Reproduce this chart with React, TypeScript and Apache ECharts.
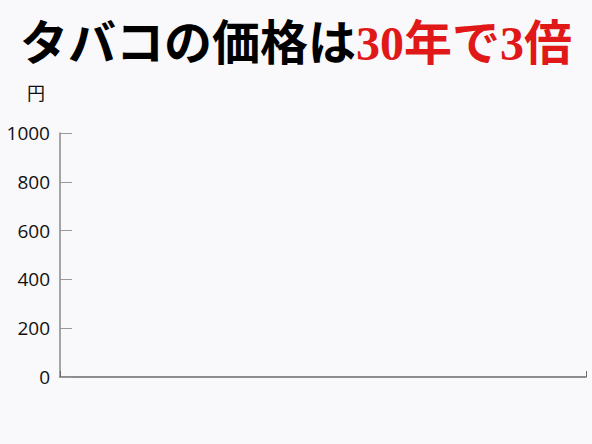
import React, { useEffect, useRef } from 'react';
import * as echarts from 'echarts';

const titleBlack = 'タバコの価格は';
const titleRed = '30年で3倍';
const yUnit = '円';
const yMin = 0;
const yMax = 1000;
const yStep = 200;
const categories: string[] = [''];
const prices: (number | null)[] = [null];

const App: React.FC = () => {
    const chartRef = useRef<HTMLDivElement>(null);

    useEffect(() => {
        if (!chartRef.current) return;
        const chart = echarts.init(chartRef.current, undefined, { renderer: 'svg' });

        const titleFont = '"Liberation Serif", "Noto Sans CJK JP", serif';

        const option = {
            animation: false,
            backgroundColor: '#f9f8fb',
            title: {
                text: `{b|${titleBlack}}{r|${titleRed}}`,
                left: 'center',
                top: 14,
                textStyle: {
                    rich: {
                        b: { fontSize: 48, fontWeight: 'bold', color: '#000', fontFamily: titleFont },
                        r: { fontSize: 48, fontWeight: 'bold', color: '#e01818', fontFamily: titleFont }
                    }
                }
            },
            grid: {
                left: 60,
                right: 6,
                top: 133,
                bottom: 67,
                containLabel: false
            },
            xAxis: {
                type: 'category',
                data: categories,
                boundaryGap: true,
                axisLine: { lineStyle: { color: '#6a6a6a', width: 1.5 } },
                axisTick: { show: true, inside: true, length: 6, lineStyle: { color: '#6a6a6a' } },
                axisLabel: { show: false }
            },
            yAxis: {
                type: 'value',
                min: yMin,
                max: yMax,
                interval: yStep,
                name: yUnit,
                nameLocation: 'end',
                nameGap: 32,
                nameTextStyle: {
                    color: '#111',
                    fontSize: 18,
                    fontFamily: '"Noto Sans CJK JP", sans-serif',
                    align: 'right',
                    padding: [0, 15, 0, 0]
                },
                axisLine: { show: true, lineStyle: { color: '#888', width: 1.5 } },
                axisTick: { show: true, inside: true, length: 12, lineStyle: { color: '#999' } },
                axisLabel: {
                    color: '#111',
                    fontSize: 19,
                    margin: 10,
                    fontFamily: '"Open Sans", sans-serif',
                    formatter: (v: number) => String(v)
                },
                splitLine: { show: false }
            },
            series: [
                {
                    type: 'line',
                    data: prices,
                    showSymbol: false
                }
            ]
        };

        chart.setOption(option);
        return () => {
            chart.dispose();
        };
    }, []);

    return <div ref={chartRef} style={{ width: 592, height: 444, position: 'absolute', left: 0, top: 0 }} />;
};

export default App;
